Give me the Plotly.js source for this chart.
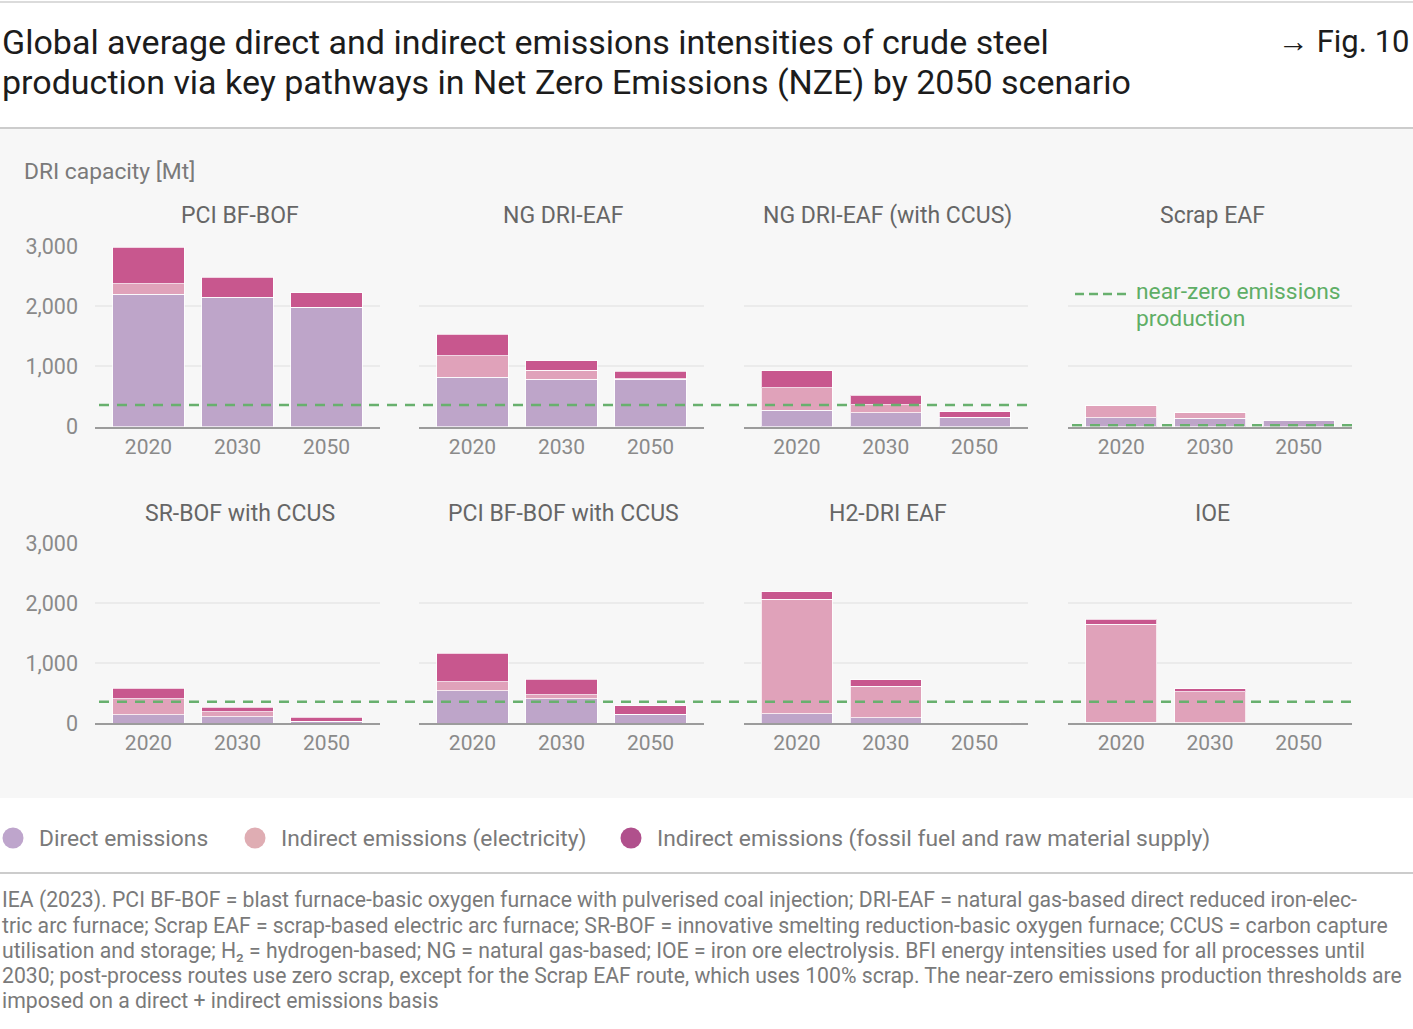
<!DOCTYPE html>
<html><head><meta charset="utf-8">
<script src="https://cdn.plot.ly/plotly-3.0.1.min.js"></script>
<style>html,body{margin:0;padding:0;background:#fff}#chart{width:1413px;height:1029px}</style>
</head><body><div id="chart"></div>
<script>
// ---------------- data ----------------
const years = ['2020', '2030', '2050'];
const pathways = ['PCI BF-BOF', 'NG DRI-EAF', 'NG DRI-EAF (with CCUS)', 'Scrap EAF',
                  'SR-BOF with CCUS', 'PCI BF-BOF with CCUS', 'H2-DRI EAF', 'IOE'];
const directEmissions      = [[2200, 2140, 1980], [825, 792, 792], [272, 232, 156], [145, 138, 95],
                              [145, 105, 33], [540, 405, 150], [161, 94, 5], [15, 5, 0]];
const electricityEmissions = [[170, 10, 5], [355, 145, 5], [375, 133, 0], [205, 90, 10],
                              [260, 84, 3], [155, 72, 0], [1906, 523, 15], [1635, 517, 0]];
const supplyEmissions      = [[610, 335, 237], [355, 160, 120], [283, 156, 93], [0, 0, 0],
                              [178, 78, 61], [472, 261, 144], [122, 105, 0], [83, 50, 0]];
const nearZeroThreshold = [360, 360, 360, 25, 360, 360, 360, 360];
const yTickValues = [0, 1000, 2000, 3000];
const seriesNames = ['Direct emissions', 'Indirect emissions (electricity)',
                     'Indirect emissions (fossil fuel and raw material supply)'];
const titleLines = ['Global average direct and indirect emissions intensities of crude steel',
                    'production via key pathways in Net Zero Emissions (NZE) by 2050 scenario'];
const footnoteLines = [
  'IEA (2023). PCI BF-BOF = blast furnace-basic oxygen furnace with pulverised coal injection; DRI-EAF = natural gas-based direct reduced iron-elec-',
  'tric arc furnace; Scrap EAF = scrap-based electric arc furnace; SR-BOF = innovative smelting reduction-basic oxygen furnace; CCUS = carbon capture',
  'utilisation and storage; H\u2082 = hydrogen-based; NG = natural gas-based; IOE = iron ore electrolysis. BFI energy intensities used for all processes until',
  '2030; post-process routes use zero scrap, except for the Scrap EAF route, which uses 100% scrap. The near-zero emissions production thresholds are',
  'imposed on a direct + indirect emissions basis'
];

// ---------------- styling ----------------
const W = 1413, H = 1029;
const FONT = 'Roboto, "Open Sans", sans-serif';
const barColors = ['#bea5c9', '#e0a2ba', '#c8578e'];
const legendColors = ['#bea5cc', '#dfadb3', '#b0508c'];
const green = '#68b06e';
const px = x => x / W, py = y => 1 - y / H;
const colPx = [[95, 380], [419, 704], [743.6, 1028], [1068, 1352]];
const rowPx = [[246, 426.7], [543.3, 723.3]];   // [pixel of 3000, pixel of 0]
const seriesData = [directEmissions, electricityEmissions, supplyEmissions];

const traces = [];
const layout = {
  width: W, height: H,
  margin: {l: 0, r: 0, t: 0, b: 0},
  paper_bgcolor: '#ffffff', plot_bgcolor: 'rgba(0,0,0,0)',
  barmode: 'stack', bargap: 0.2, showlegend: false,
  font: {family: FONT, color: '#888888'},
  shapes: [], annotations: []
};

pathways.forEach((name, i) => {
  const n = i === 0 ? '' : String(i + 1);
  const col = i % 4, row = Math.floor(i / 4);
  seriesData.forEach((arr, s) => {
    traces.push({
      type: 'bar', x: years, y: arr[i], name: seriesNames[s],
      xaxis: 'x' + n, yaxis: 'y' + n,
      marker: {color: barColors[s], line: {color: 'rgba(255,255,255,0.75)', width: 1}},
      hovertemplate: name + ' %{x}<br>' + seriesNames[s] + ': %{y}<extra></extra>'
    });
  });
  layout['xaxis' + n] = {
    domain: [px(colPx[col][0]), px(colPx[col][1])], anchor: 'y' + n,
    type: 'category', range: [-0.6, 2.6], showgrid: false,
    showline: true, linecolor: '#9c9c9c', linewidth: 1.5, ticks: '',
    tickfont: {family: FONT, size: 21, color: '#8a8a8a'}, ticklabelstandoff: 0, fixedrange: true
  };
  layout['yaxis' + n] = {
    domain: [py(rowPx[row][1]), py(rowPx[row][0])], anchor: 'x' + n,
    range: [0, 3000], tickvals: yTickValues, tickformat: ',d',
    showticklabels: col === 0, gridcolor: '#ebebeb', gridwidth: 2,
    zeroline: false, showline: false, ticks: '',
    tickfont: {family: FONT, size: 21.5, color: '#8a8a8a'}, ticklabelstandoff: 16, fixedrange: true
  };
  // panel title
  layout.annotations.push({
    xref: 'paper', yref: 'paper', x: px((colPx[col][0] + colPx[col][1]) / 2 + 2),
    y: py(row === 0 ? 216 : 513), text: name, showarrow: false,
    xanchor: 'center', yanchor: 'middle', font: {family: FONT, size: 23, color: '#666666'}
  });
});

// near-zero threshold lines (merge consecutive panels with same threshold)
for (let row = 0; row < 2; row++) {
  let start = null;
  for (let c = 0; c < 4; c++) {
    const i = row * 4 + c;
    if (start === null) start = c;
    const next = c < 3 ? nearZeroThreshold[i + 1] : null;
    if (next !== nearZeroThreshold[i]) {
      const n = (row * 4 + start) === 0 ? '' : String(row * 4 + start + 1);
      layout.shapes.push({
        type: 'line', xref: 'paper', yref: 'y' + n,
        x0: px(colPx[start][0] + 4), x1: px(colPx[c][1]),
        y0: nearZeroThreshold[i], y1: nearZeroThreshold[i],
        line: {color: green, width: 2.6, dash: '10px,8px'}, layer: 'above'
      });
      start = null;
    }
  }
}

// background and rules
layout.shapes.push(
  {type: 'rect', xref: 'paper', yref: 'paper', x0: 0, x1: 1, y0: py(798), y1: py(129),
   fillcolor: '#f7f7f7', line: {width: 0}, layer: 'below'},
  {type: 'line', xref: 'paper', yref: 'paper', x0: 0, x1: 1, y0: py(2), y1: py(2),
   line: {color: '#cfcfcf', width: 1.5}},
  {type: 'line', xref: 'paper', yref: 'paper', x0: 0, x1: 1, y0: py(128), y1: py(128),
   line: {color: '#cccccc', width: 2}},
  {type: 'line', xref: 'paper', yref: 'paper', x0: 0, x1: 1, y0: py(873), y1: py(873),
   line: {color: '#cccccc', width: 2}},
  // near-zero key
  {type: 'line', xref: 'paper', yref: 'paper', x0: px(1075), x1: px(1127), y0: py(294), y1: py(294),
   line: {color: green, width: 2.6, dash: '9px,5px'}}
);
layout.annotations.push(
  {xref: 'paper', yref: 'paper', x: px(1134), y: py(291), text: 'near-zero emissions', showarrow: false,
   xanchor: 'left', yanchor: 'middle', font: {family: FONT, size: 22.8, color: '#5fae66'}},
  {xref: 'paper', yref: 'paper', x: px(1134), y: py(318), text: 'production', showarrow: false,
   xanchor: 'left', yanchor: 'middle', font: {family: FONT, size: 22.8, color: '#5fae66'}}
);

// title
titleLines.forEach((t, k) => layout.annotations.push({
  xref: 'paper', yref: 'paper', x: 0, y: py(41.5 + 40 * k), text: t, showarrow: false,
  xanchor: 'left', yanchor: 'middle', font: {family: FONT, size: 34, color: '#1c1c1c'}
}));
layout.annotations.push({
  xref: 'paper', yref: 'paper', x: px(1411), y: py(41.5), text: '→ Fig. 10', showarrow: false,
  xanchor: 'right', yanchor: 'middle', font: {family: FONT, size: 31, color: '#1c1c1c'}
});
// axis unit label
layout.annotations.push({
  xref: 'paper', yref: 'paper', x: px(22), y: py(171), text: 'DRI capacity [Mt]', showarrow: false,
  xanchor: 'left', yanchor: 'middle', font: {family: FONT, size: 22.8, color: '#7a7a7a'}
});

// legend
const legendCircleX = [13, 255, 631];
const legendTextX = [37, 279, 655];
seriesNames.forEach((nm, s) => {
  layout.shapes.push({
    type: 'circle', xref: 'paper', yref: 'paper',
    x0: px(legendCircleX[s] - 10.5), x1: px(legendCircleX[s] + 10.5),
    y0: py(838 + 10.5), y1: py(838 - 10.5),
    fillcolor: legendColors[s], line: {width: 0}
  });
  layout.annotations.push({
    xref: 'paper', yref: 'paper', x: px(legendTextX[s]), y: py(838), text: nm, showarrow: false,
    xanchor: 'left', yanchor: 'middle', font: {family: FONT, size: 22.8, color: '#7a7a7a'}
  });
});

// footnote
footnoteLines.forEach((t, k) => layout.annotations.push({
  xref: 'paper', yref: 'paper', x: 0, y: py(900 + 25 * k), text: t, showarrow: false,
  xanchor: 'left', yanchor: 'middle', font: {family: FONT, size: 21.2, color: '#7a7a7a'}
}));

Plotly.newPlot('chart', traces, layout, {displayModeBar: false, responsive: false});
</script>
</body></html>
